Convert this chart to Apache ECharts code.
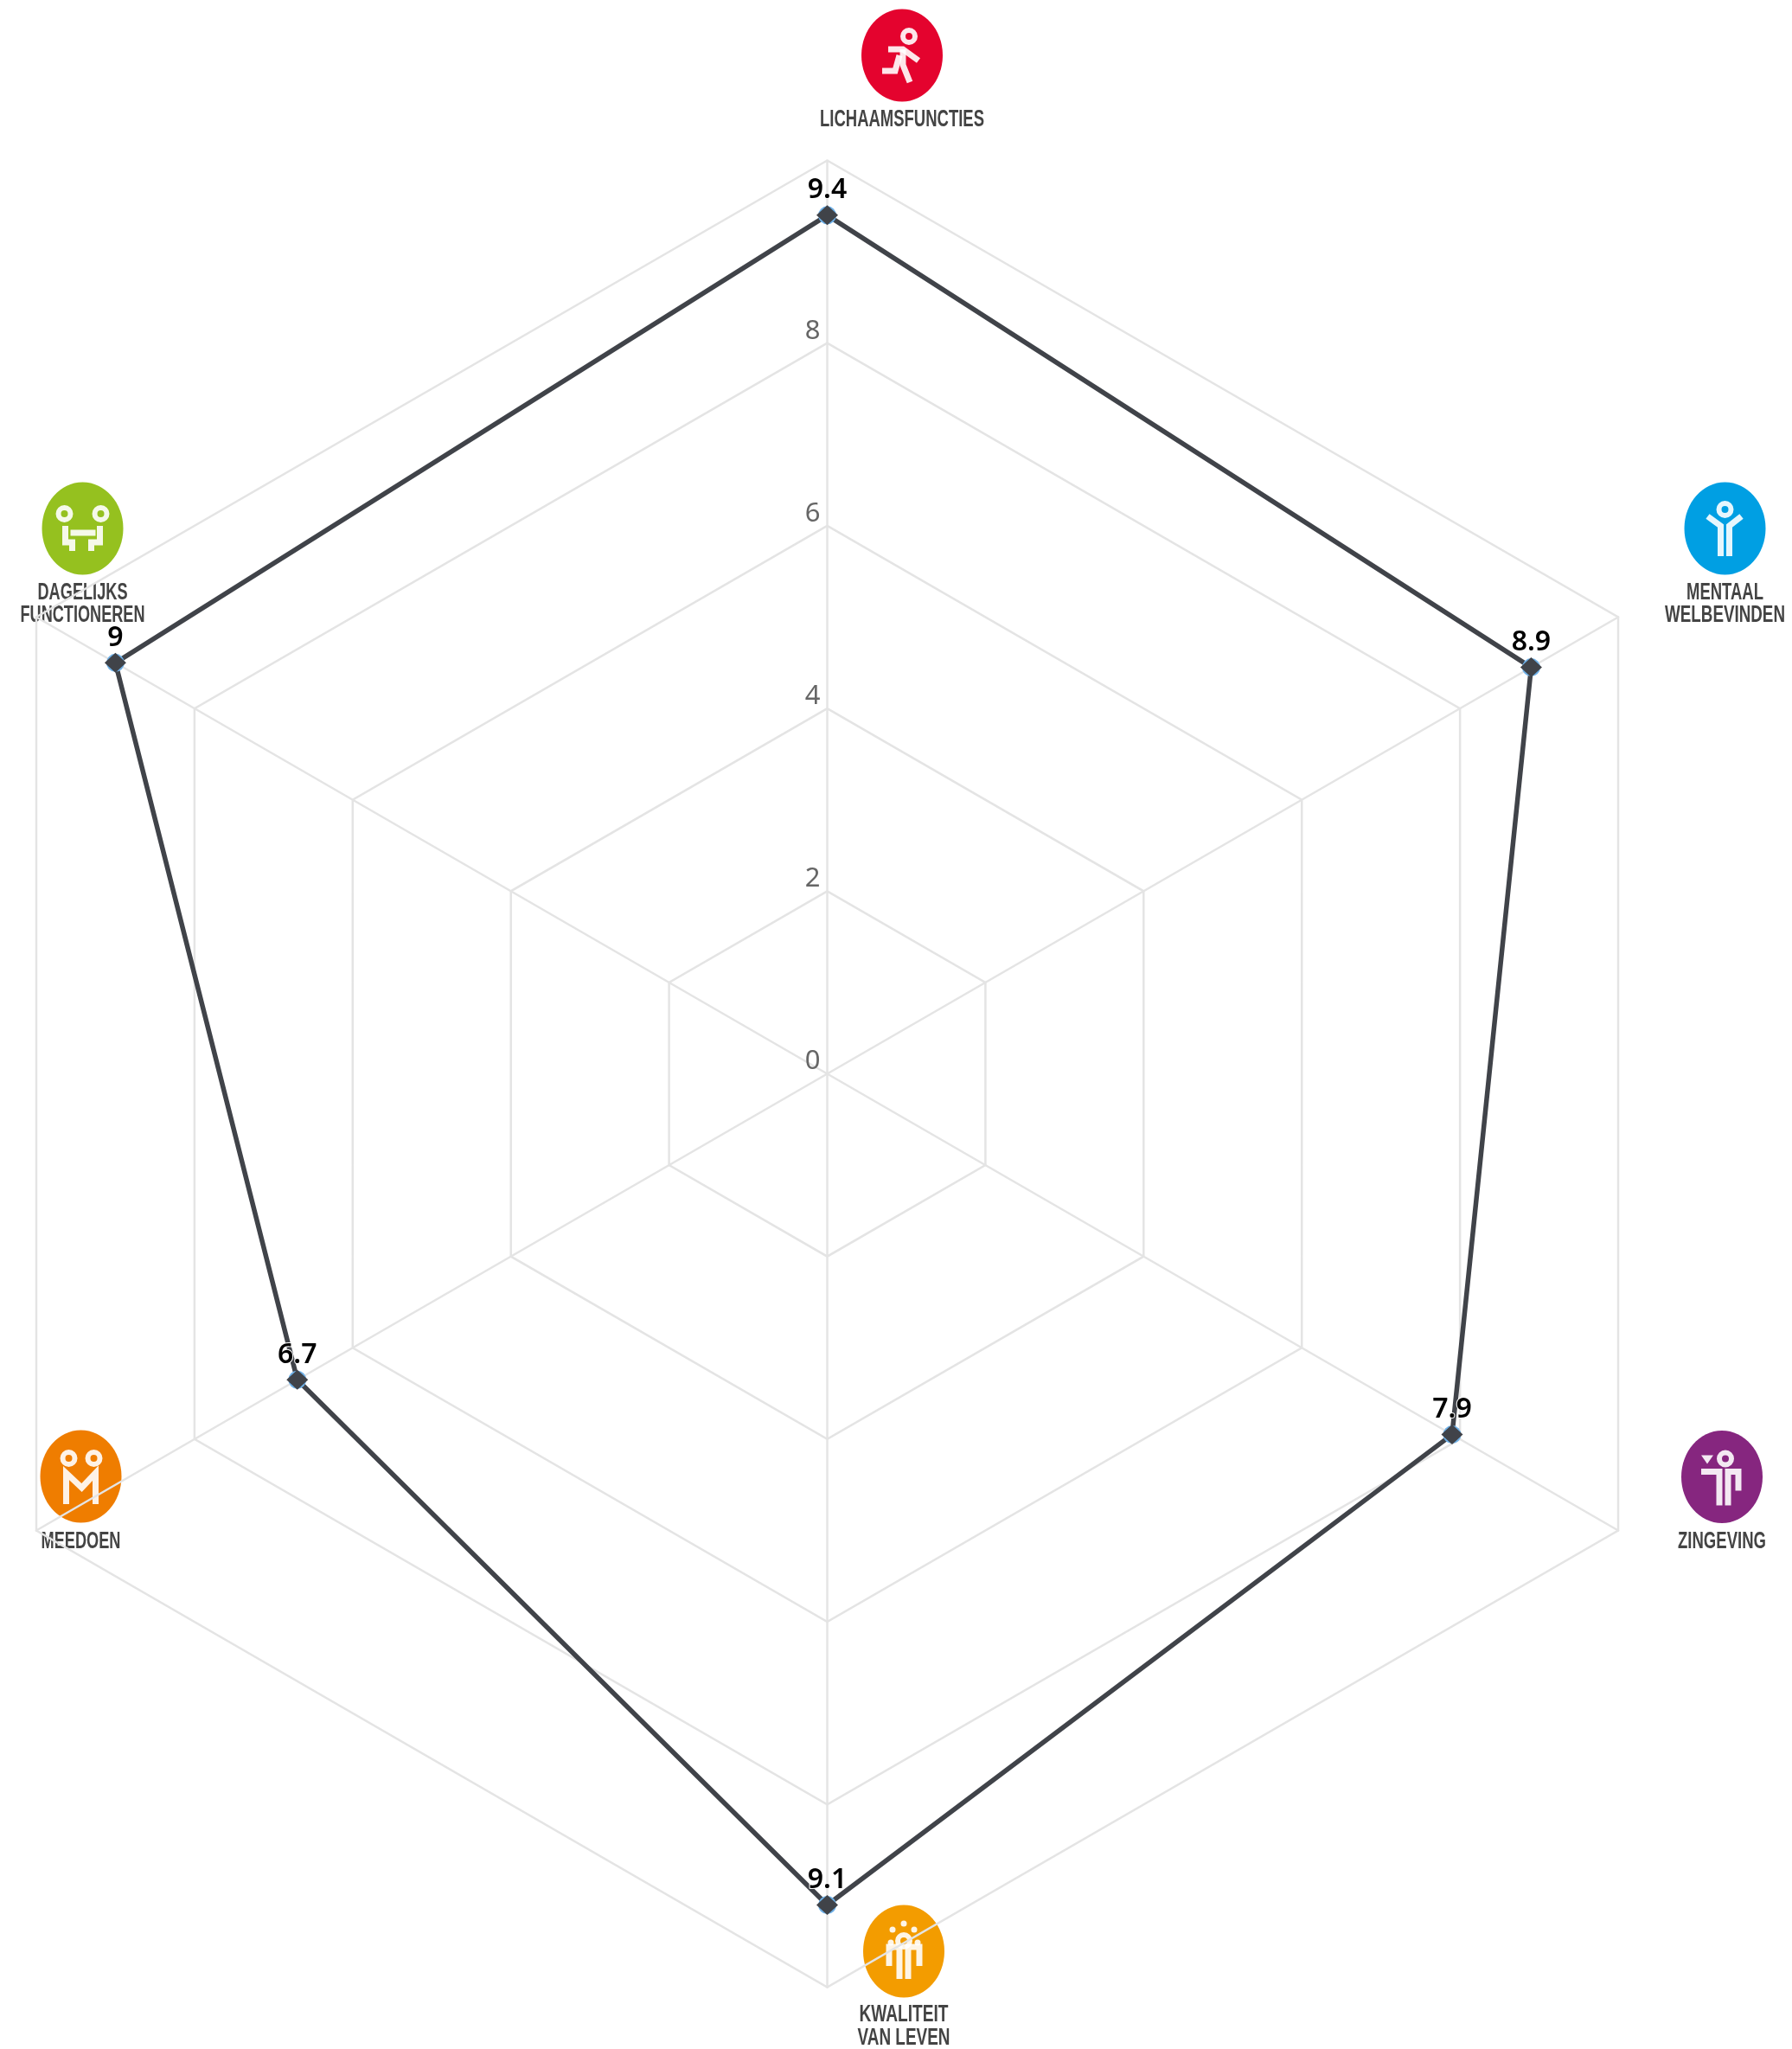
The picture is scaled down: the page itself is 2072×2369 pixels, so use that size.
<!DOCTYPE html>
<html>
<head>
<meta charset="utf-8">
<title>Positieve gezondheid</title>
<script src="https://cdn.jsdelivr.net/npm/echarts@6/dist/echarts.min.js"></script>
<style>
    html, body { margin: 0; padding: 0; background: #ffffff; }
    #chart { width: 2072px; height: 2369px; }
</style>
</head>
<body>
<div id="chart"></div>
<script>
// radar runs counter-clockwise from the top
var categories = ["Lichaamsfuncties", "Dagelijks functioneren", "Meedoen", "Kwaliteit van leven", "Zingeving", "Mentaal welbevinden"];
var scores = [9.4, 9, 6.7, 9.1, 7.9, 8.9];
var maxScore = 10;

var gridColor = "#e4e4e4";
var lineColor = "#404349";
var haloColor = "#6fb1e8";
var labelFont = "bold 27px 'Liberation Sans', sans-serif";

// ring = head, dot = small filled circle, tri = filled polygon, stroke = polyline
var icons = [
    {
        x: 1043, y: 64, color: "#e4032e", lines: ["LICHAAMSFUNCTIES"], textY: [139], widths: [190],
        rings: [[8, -22]], strokes: [
            [[-16, -7], [1, -7], [19, 6]],
            [[1, -7], [1, 11], [9, 31]],
            [[-3, 0], [-8, 18], [-23, 18]]
        ]
    },
    {
        x: 95.5, y: 611, color: "#95c11f", lines: ["DAGELIJKS", "FUNCTIONEREN"], textY: [686, 712], widths: [104, 144],
        rings: [[-21, -17], [21, -17]], strokes: [
            [[-14, 5], [15, 5]],
            [[-20, -3], [-20, 16], [-12, 16], [-12, 26]],
            [[20, -3], [20, 16], [10, 16], [10, 26]]
        ]
    },
    {
        x: 1994.5, y: 611, color: "#009fe3", lines: ["MENTAAL", "WELBEVINDEN"], textY: [686, 712], widths: [89, 139],
        rings: [[0, -22]], strokes: [
            [[-20, -14], [-5, -3], [-5, 32]],
            [[19, -14], [5, -3], [5, 32]]
        ]
    },
    {
        x: 93.5, y: 1707, color: "#ef7d00", lines: ["MEEDOEN"], textY: [1783], widths: [92],
        rings: [[-14, -21], [15, -21]], strokes: [
            [[-17, 32], [-17, -4], [1, 13], [17, -4], [17, 32]]
        ]
    },
    {
        x: 1991, y: 1707.5, color: "#86267f", lines: ["ZINGEVING"], textY: [1783], widths: [102],
        rings: [[4, -21]], strokes: [
            [[-24, -6], [-3, -6], [-3, 33]],
            [[7, 33], [7, -6], [19, -6], [19, 16]]
        ],
        tri: [[-24, -25], [-10, -25], [-17, -15]]
    },
    {
        x: 1045, y: 2256, color: "#f39c00", lines: ["KWALITEIT", "VAN LEVEN"], textY: [2330, 2357], widths: [103, 107],
        rings: [[0, -12]], strokes: [
            [[-5, 32], [-5, -5], [-17, -5], [-17, 17]],
            [[5, 32], [5, -5], [18, -5], [18, 17]]
        ],
        dots: [[0, -32], [-13, -25], [12, -25], [-15, -10], [16, -10]]
    }
];

var measureCtx = document.createElement("canvas").getContext("2d");

function iconElements(icon) {
    var children = [{
        type: "ellipse",
        shape: { cx: 0, cy: 0, rx: 47, ry: 53.5 },
        style: { fill: icon.color },
        z: -1
    }];
    var glyph = { fill: "#ffffff", opacity: 0.9 };
    icon.strokes.forEach(function (points) {
        children.push({
            type: "polyline",
            shape: { points: points },
            style: { stroke: "#ffffff", fill: null, lineWidth: 7, opacity: 0.9 },
            z: -1
        });
    });
    icon.rings.forEach(function (p) {
        children.push({ type: "ring", shape: { cx: p[0], cy: p[1], r: 10, r0: 4 }, style: glyph, z: -1 });
    });
    (icon.dots || []).forEach(function (p) {
        children.push({ type: "circle", shape: { cx: p[0], cy: p[1], r: 3.5 }, style: glyph, z: -1 });
    });
    if (icon.tri) {
        children.push({ type: "polygon", shape: { points: icon.tri }, style: glyph, z: -1 });
    }
    return { type: "group", x: icon.x, y: icon.y, children: children };
}

function iconLabels(icon) {
    var res = [];
    measureCtx.font = labelFont;
    // the original lettering is a condensed face, so squeeze the text to its measured width
    icon.lines.forEach(function (line, i) {
        res.push({
            type: "text",
            x: icon.x,
            y: icon.textY[i],
            scaleX: icon.widths[i] / measureCtx.measureText(line).width,
            z: -1,
            style: {
                text: line,
                fill: "#444444",
                font: labelFont,
                textAlign: "center",
                textVerticalAlign: "middle"
            }
        });
    });
    return res;
}

var graphics = [];
icons.forEach(function (icon) {
    graphics.push(iconElements(icon));
    graphics = graphics.concat(iconLabels(icon));
});

var indicators = categories.map(function (name, i) {
    var item = { name: name, min: 0, max: maxScore };
    if (i == 0) {
        item.axisLabel = {
            show: true,
            color: "#666666",
            fontSize: 31,
            fontFamily: "Noto Sans",
            margin: 8,
            verticalAlign: "bottom",
            lineHeight: 28,
            showMaxLabel: false
        };
    }
    return item;
});

var chart = echarts.init(document.getElementById("chart"));
chart.setOption({
    animation: false,
    backgroundColor: "#ffffff",
    graphic: { elements: graphics },
    radar: {
        center: [956.5, 1241.5],
        radius: 1056,
        startAngle: 90,
        splitNumber: 5,
        shape: "polygon",
        indicator: indicators,
        axisName: { show: false },
        axisLine: { lineStyle: { color: gridColor, width: 2.5 } },
        axisTick: { show: false },
        splitLine: { lineStyle: { color: gridColor, width: 2.5 } },
        splitArea: { show: false }
    },
    series: [
        {
            type: "radar",
            symbol: "circle",
            symbolSize: 21,
            itemStyle: { color: haloColor },
            lineStyle: { width: 0, opacity: 0 },
            data: [{ value: scores }]
        },
        {
            type: "radar",
            symbol: "diamond",
            symbolSize: [25, 23],
            itemStyle: { color: lineColor },
            lineStyle: { color: lineColor, width: 5.5 },
            label: {
                show: true,
                position: "top",
                distance: 1,
                color: "#000000",
                fontSize: 32,
                fontWeight: 600,
                fontFamily: "Noto Sans",
                textBorderColor: "#ffffff",
                textBorderWidth: 2
            },
            data: [{ value: scores }]
        }
    ]
});
</script>
</body>
</html>
